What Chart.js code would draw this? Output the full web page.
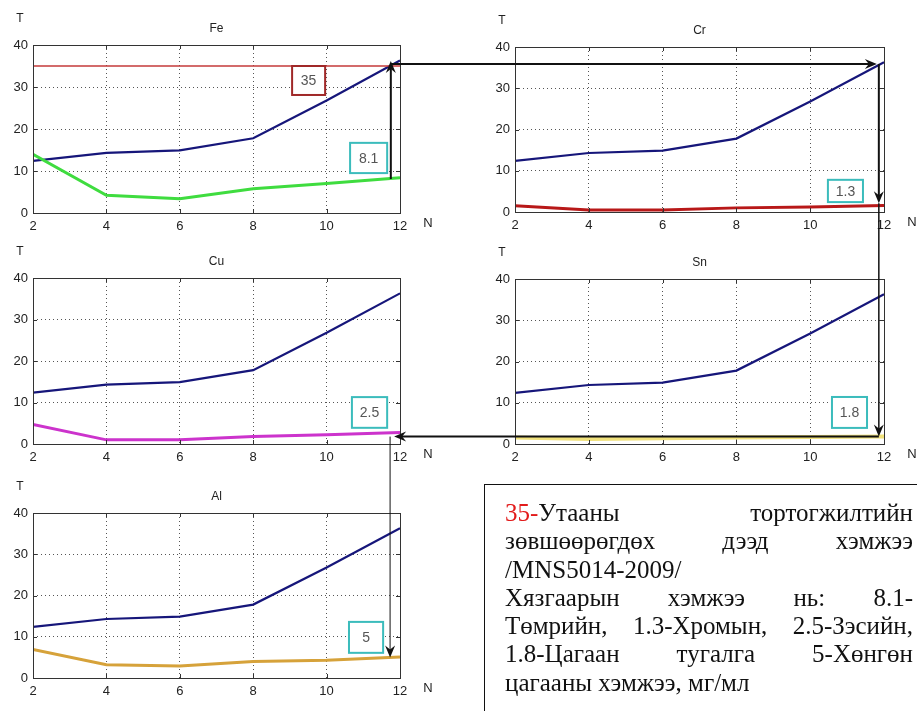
<!DOCTYPE html>
<html>
<head>
<meta charset="utf-8">
<script src="https://cdn.jsdelivr.net/npm/chart.js@4.4.0/dist/chart.umd.min.js"></script>
<style>
  html, body { margin: 0; padding: 0; background: #fff; }
  body { width: 917px; height: 711px; position: relative; overflow: hidden; }
  canvas.plot { position: absolute; }
  #overlay { position: absolute; left: 0; top: 0; pointer-events: none; }
  .note {
    position: absolute; left: 484px; top: 484px; width: 408px; height: 260px;
    border: 1.5px solid #111; padding: 14px 21px 0 20px;
    font-family: "Liberation Serif", "Times New Roman", serif; font-size: 25px; line-height: 28.3px; color: #111;
  }
  .note div { text-align: justify; text-align-last: justify; white-space: nowrap; }
  .note div.left { text-align: left; text-align-last: left; }
  .red { color: #e21b1b; }
</style>
</head>
<body>
<canvas id="fe" class="plot"></canvas>
<canvas id="cr" class="plot"></canvas>
<canvas id="cu" class="plot"></canvas>
<canvas id="sn" class="plot"></canvas>
<canvas id="al" class="plot"></canvas>
<canvas id="overlay" width="917" height="711"></canvas>

<div class="note">
  <div style="white-space:normal"><span class="red">35-</span>Утааны тортогжилтийн</div>
  <div style="white-space:normal">зөвшөөрөгдөх дээд хэмжээ</div>
  <div class="left">/MNS5014-2009/</div>
  <div style="white-space:normal">Хязгаарын хэмжээ нь: 8.1-</div>
  <div style="white-space:normal">Төмрийн, 1.3-Хромын, 2.5-Зэсийн,</div>
  <div style="white-space:normal">1.8-Цагаан тугалга 5-Хөнгөн</div>
  <div class="left">цагааны хэмжээ, мг/мл</div>
</div>

<script>
// data
const N = [2, 4, 6, 8, 10, 12];
const xTickLabels = ['2', '4', '6', '8', '10', '12'];
const yTicks = [0, 10, 20, 30, 40];
const totalT = [12.4, 14.3, 14.9, 17.8, 26.8, 36.3];   // blue curve, same on every panel
const feLimit = [35, 35, 35, 35, 35, 35];
const feT = [14.0, 4.2, 3.4, 5.8, 7.0, 8.4];
const crT = [1.5, 0.5, 0.5, 1.0, 1.2, 1.6];
const cuT = [4.7, 1.0, 1.0, 1.8, 2.2, 2.8];
const snT = [1.6, 1.2, 1.4, 1.6, 1.7, 1.8];
const alT = [6.9, 3.2, 2.9, 4.0, 4.3, 5.1];
const limits = { fe: '8.1', cr: '1.3', cu: '2.5', sn: '1.8', al: '5', smoke: '35' };

const pts = arr => arr.map((v, i) => ({ x: N[i], y: v }));
const FONT = '"Liberation Sans", Arial, sans-serif';

// panel frames in page pixels: canvas box and plot box
const panels = {
  fe: { canvas: [0, 0, 460, 240],   plot: [33, 45, 400, 213] },
  cr: { canvas: [460, 0, 457, 240], plot: [515, 47, 884, 212] },
  cu: { canvas: [0, 240, 460, 230], plot: [33, 278, 400, 444] },
  sn: { canvas: [460, 240, 457, 230], plot: [515, 279, 884, 444] },
  al: { canvas: [0, 470, 460, 241], plot: [33, 513, 400, 678] }
};

// matlab-ish frame, inner ticks, labels and value boxes
const framePlugin = {
  id: 'frame',
  afterDraw(chart, args, opts) {
    const { ctx, chartArea: a } = chart;
    const xs = chart.scales.x, ys = chart.scales.y;
    ctx.save();
    ctx.strokeStyle = '#333';
    ctx.lineWidth = 1;
    ctx.setLineDash([]);
    ctx.strokeRect(a.left + 0.5, a.top + 0.5, a.width, a.height);
    ctx.beginPath();
    N.slice(1, -1).forEach(v => {
      const px = Math.round(xs.getPixelForValue(v)) + 0.5;
      ctx.moveTo(px, a.bottom); ctx.lineTo(px, a.bottom - 4);
      ctx.moveTo(px, a.top); ctx.lineTo(px, a.top + 4);
    });
    yTicks.slice(1, -1).forEach(v => {
      const py = Math.round(ys.getPixelForValue(v)) + 0.5;
      ctx.moveTo(a.left, py); ctx.lineTo(a.left + 4, py);
      ctx.moveTo(a.right, py); ctx.lineTo(a.right - 4, py);
    });
    ctx.stroke();

    ctx.fillStyle = '#222';
    ctx.font = '12px ' + FONT;
    ctx.textAlign = 'center';
    ctx.textBaseline = 'middle';
    ctx.fillText(opts.title, (a.left + a.right) / 2, a.top - 16);
    ctx.fillText('T', a.left - 13, a.top - 26);
    ctx.font = '13px ' + FONT;
    ctx.fillText('N', a.right + 28, a.bottom + 10);

    (opts.boxes || []).forEach(b => {
      const x1 = xs.getPixelForValue(b.x0), x2 = xs.getPixelForValue(b.x1);
      const y1 = ys.getPixelForValue(b.y0), y2 = ys.getPixelForValue(b.y1);
      ctx.fillStyle = '#fff';
      ctx.fillRect(x1, y1, x2 - x1, y2 - y1);
      ctx.strokeStyle = b.color;
      ctx.lineWidth = 2;
      ctx.strokeRect(x1, y1, x2 - x1, y2 - y1);
      ctx.fillStyle = '#555';
      ctx.font = '14px ' + FONT;
      ctx.fillText(b.text, (x1 + x2) / 2, (y1 + y2) / 2 + 1);
    });
    ctx.restore();
  }
};

function makePanel(id, title, series, boxes) {
  const p = panels[id];
  const [cl, ct, cw, ch] = p.canvas;
  const [pl, pt, pr, pb] = p.plot;
  const el = document.getElementById(id);
  el.width = cw; el.height = ch;
  el.style.left = cl + 'px'; el.style.top = ct + 'px';
  const edgeX = c => (c.tick && (c.tick.value === 2 || c.tick.value === 12)) ? 'rgba(0,0,0,0)' : '#555';
  const edgeY = c => (c.tick && (c.tick.value === 0 || c.tick.value === 40)) ? 'rgba(0,0,0,0)' : '#555';
  return new Chart(el, {
    type: 'line',
    data: {
      datasets: series.map(s => ({
        data: pts(s.data),
        borderColor: s.color,
        borderWidth: s.width,
        pointRadius: 0,
        tension: 0,
        fill: false
      }))
    },
    options: {
      responsive: false,
      animation: false,
      events: [],
      layout: { padding: { top: pt - ct, right: cl + cw - pr, left: 0, bottom: 0 } },
      plugins: {
        legend: { display: false },
        tooltip: { enabled: false },
        frame: { title, boxes }
      },
      scales: {
        x: {
          type: 'linear', min: 2, max: 12,
          afterFit: s => { s.height = ct + ch - pb; },
          afterBuildTicks: s => { s.ticks = N.map(v => ({ value: v })); },
          ticks: { padding: 6, color: '#222', font: { size: 13, family: FONT },
                   callback: (v) => xTickLabels[N.indexOf(v)], maxRotation: 0 },
          grid: { color: edgeX, drawTicks: false, lineWidth: 1 },
          border: { display: false, dash: [1, 3] }
        },
        y: {
          min: 0, max: 40,
          afterFit: s => { s.width = pl - cl; },
          afterBuildTicks: s => { s.ticks = yTicks.map(v => ({ value: v })); },
          ticks: { padding: 5, color: '#222', font: { size: 13, family: FONT } },
          grid: { color: edgeY, drawTicks: false, lineWidth: 1 },
          border: { display: false, dash: [1, 3] }
        }
      }
    },
    plugins: [framePlugin]
  });
}

const navy = '#16167a';
const cyan = '#3bbcbc';
const charts = {
  fe: makePanel('fe', 'Fe', [
    { data: feLimit, color: '#c43a3a', width: 1.5 },
    { data: feT, color: '#3fdc3f', width: 3 },
    { data: totalT, color: navy, width: 2.2 }
  ], [
    { x0: 9.06, x1: 9.96, y0: 35, y1: 28.1, text: limits.smoke, color: '#a02828' },
    { x0: 10.64, x1: 11.65, y0: 16.7, y1: 9.5, text: limits.fe, color: cyan }
  ]),
  cr: makePanel('cr', 'Cr', [
    { data: crT, color: '#b81818', width: 3 },
    { data: totalT, color: navy, width: 2.2 }
  ], [
    { x0: 10.48, x1: 11.43, y0: 7.8, y1: 2.4, text: limits.cr, color: cyan }
  ]),
  cu: makePanel('cu', 'Cu', [
    { data: cuT, color: '#cc33cc', width: 3 },
    { data: totalT, color: navy, width: 2.2 }
  ], [
    { x0: 10.69, x1: 11.65, y0: 11.3, y1: 3.9, text: limits.cu, color: cyan }
  ]),
  sn: makePanel('sn', 'Sn', [
    { data: snT, color: '#f1e27c', width: 4 },
    { data: totalT, color: navy, width: 2.2 }
  ], [
    { x0: 10.59, x1: 11.54, y0: 11.4, y1: 3.9, text: limits.sn, color: cyan }
  ]),
  al: makePanel('al', 'Al', [
    { data: alT, color: '#d6a23a', width: 3 },
    { data: totalT, color: navy, width: 2.2 }
  ], [
    { x0: 10.61, x1: 11.54, y0: 13.6, y1: 6.1, text: limits.al, color: cyan }
  ])
};

// arrows linking the panels, drawn on top of everything
function page(id, x, y) {
  const c = charts[id], off = panels[id].canvas;
  return [off[0] + c.scales.x.getPixelForValue(x), off[1] + c.scales.y.getPixelForValue(y)];
}

const ov = document.getElementById('overlay').getContext('2d');
ov.strokeStyle = '#111';
ov.fillStyle = '#111';

function line(x1, y1, x2, y2, w) {
  ov.lineWidth = w;
  ov.beginPath(); ov.moveTo(x1, y1); ov.lineTo(x2, y2); ov.stroke();
}
function head(x, y, dx, dy) {
  const L = 12, H = 5, notch = 4;
  const bx = x - dx * L, by = y - dy * L;
  const nx = -dy, ny = dx;
  ov.beginPath();
  ov.moveTo(x, y);
  ov.lineTo(bx + nx * H, by + ny * H);
  ov.lineTo(x - dx * (L - notch), y - dy * (L - notch));
  ov.lineTo(bx - nx * H, by - ny * H);
  ov.closePath();
  ov.fill();
}

const feBot = page('fe', 11.75, 8.1);
const feTop = page('fe', 11.75, 36.2);
line(feBot[0], feBot[1], feTop[0], feTop[1] + 6, 2);
head(feTop[0], feTop[1], 0, -1);

const crX = page('cr', 11.86, 0)[0];
const yTop = feTop[1] + 3;
line(feTop[0], yTop, crX - 6, yTop, 2);
head(crX - 2, yTop, 1, 0);

const crTip = page('cr', 11.86, crT[crT.length - 1] + 0.5);
line(crX, yTop, crX, crTip[1] - 6, 2);
head(crX, crTip[1], 0, 1);

const snTip = page('sn', 11.86, snT[snT.length - 1]);
line(crX, crTip[1], crX, snTip[1] - 6, 1.5);
head(crX, snTip[1], 0, 1);

const cuTip = page('cu', 11.84, 0);
line(crX, snTip[1], cuTip[0] + 6, snTip[1], 2);
head(cuTip[0], snTip[1], -1, 0);

const alTip = page('al', 11.73, 5);
line(alTip[0], snTip[1], alTip[0], alTip[1] - 6, 1);
head(alTip[0], alTip[1], 0, 1);
</script>
</body>
</html>
